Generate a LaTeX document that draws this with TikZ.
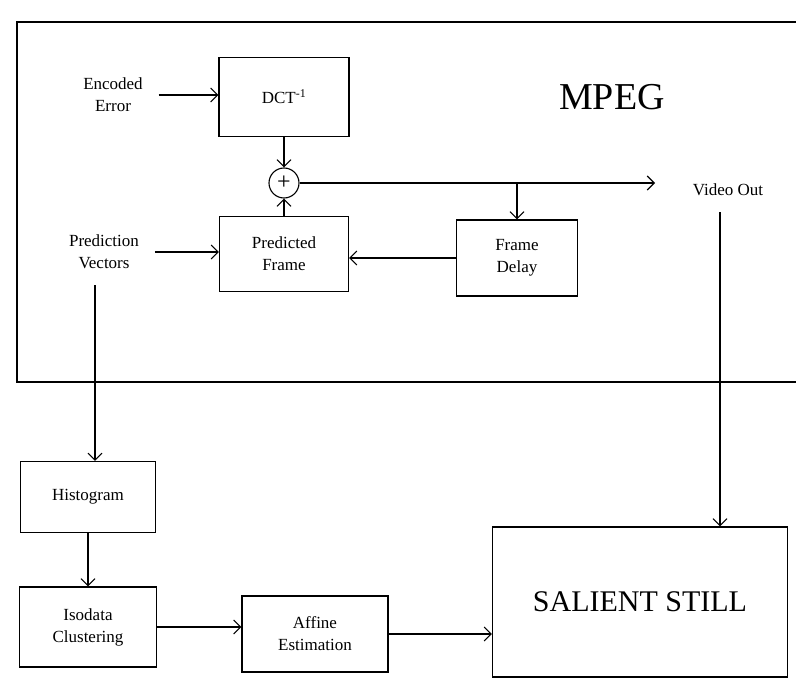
\documentclass[tikz,border=0pt]{standalone}
\usepackage{fontspec}
\setmainfont{Liberation Serif}
\usetikzlibrary{arrows.meta}

\begin{document}
\begin{tikzpicture}[x=1pt,y=-1pt,>={Straight Barb[length=7pt,width=14pt]},line width=1.1pt]
    \tikzset{block/.style={draw,align=center,inner sep=2pt,font=\fontsize{17}{22}\selectfont}, tag/.style={align=center,inner sep=2pt,outer sep=14pt,font=\fontsize{17}{22}\selectfont}, arrow/.style={->}}
    \useasboundingbox (0,0) rectangle (796,682);
    % MPEG frame, open to the right
    \draw (796,22) -- (17,22) -- (17,382) -- (796,382);
    \node[font=\fontsize{38}{40}\selectfont] (mpeg) at (612,97) {MPEG};
    \node[tag] (enc) at (113,95) {Encoded\\Error};
    \node[block,minimum width=130pt,minimum height=79pt] (dct) at (284,97) {DCT\textsuperscript{-1}};
    \node[draw,circle,minimum size=30pt,inner sep=0pt,font=\fontsize{24}{24}\selectfont] (sum) at (284,183) {+};
    \node[block,minimum width=129pt,minimum height=75pt] (pred) at (284,254) {Predicted\\Frame};
    \node[tag] (pv) at (104,252) {Prediction\\Vectors};
    \node[block,minimum width=121pt,minimum height=76pt] (delay) at (517,258) {Frame\\Delay};
    \node[tag] (vout) at (728,190) {Video Out};
    \coordinate (vo) at (655,183);
    % lower chain
    \node[block,minimum width=135pt,minimum height=71pt] (hist) at (88,497) {Histogram};
    \node[block,minimum width=137pt,minimum height=80pt] (iso) at (88,627) {Isodata\\Clustering};
    \node[block,minimum width=146pt,minimum height=76pt] (aff) at (315,634) {Affine\\Estimation};
    \node[block,minimum width=295pt,minimum height=150pt,font=\fontsize{30}{32}\selectfont] (sal) at (640,602) {SALIENT STILL};
    \draw[arrow] (enc.east) -- (enc.east -| dct.west);
    \draw[arrow] (dct) -- (sum);
    \draw[arrow] (pred) -- (sum);
    \draw[arrow] (sum) -- (sum -| vo);
    \draw[arrow] (sum -| delay.north) -- (delay.north);
    \draw[arrow] (delay.west) -- (delay.west -| pred.east);
    \draw[arrow] (pv.east) -- (pv.east -| pred.west);
    \draw[arrow] ([xshift=-9pt]pv.south) -- ([xshift=-9pt]pv.south |- hist.north);
    \draw[arrow] (hist) -- (iso);
    \draw[arrow] (iso.east) -- (iso.east -| aff.west);
    \draw[arrow] (aff.east) -- (aff.east -| sal.west);
    \draw[arrow] ([xshift=-8pt]vout.south) -- ([xshift=-8pt]vout.south |- sal.north);
\end{tikzpicture}
\end{document}
